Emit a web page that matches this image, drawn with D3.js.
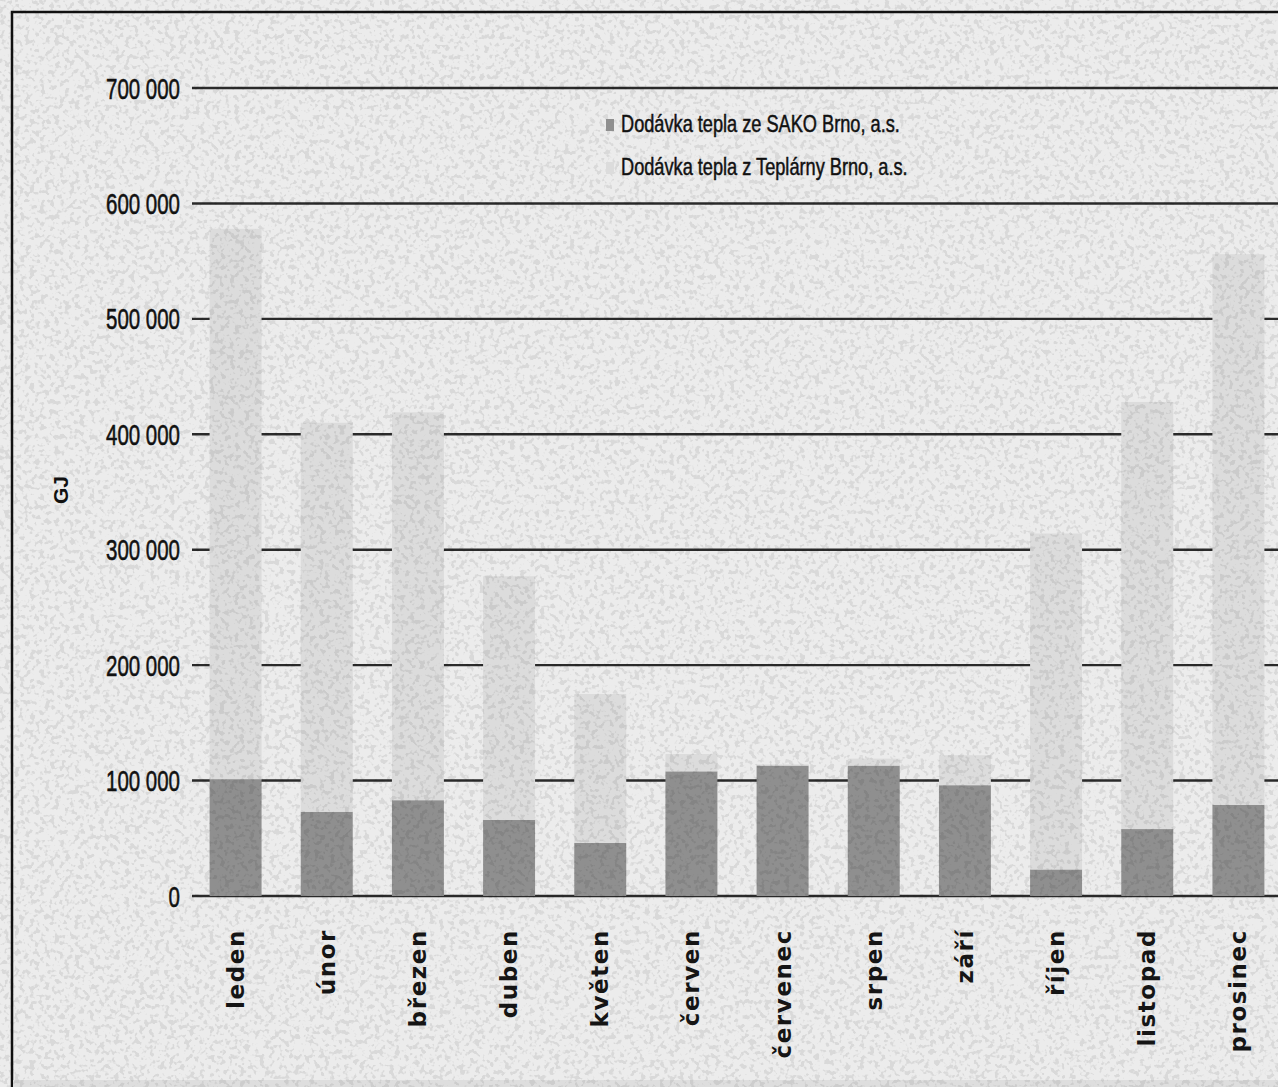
<!DOCTYPE html>
<html>
<head>
<meta charset="utf-8">
<script src="https://cdn.jsdelivr.net/npm/d3@7"></script>
<style>
  html, body { margin: 0; padding: 0; background: #ececec; }
  svg { display: block; }
</style>
</head>
<body>
<svg id="chart" width="1278" height="1087"></svg>
<script>
// ---- data ----
const months = ['leden','únor','březen','duben','květen','červen','červenec','srpen','září','říjen','listopad','prosinec'];
const sako = [101000, 73000, 83000, 66000, 46000, 108000, 113000, 113000, 96000, 23000, 58000, 79000];
const teplarny = [477000, 337000, 336000, 211000, 129000, 15000, 1000, 6000, 26000, 291000, 370000, 477000];
const seriesNames = ['Dodávka tepla ze SAKO Brno, a.s.', 'Dodávka tepla z Teplárny Brno, a.s.'];
const yTicks = [0, 100000, 200000, 300000, 400000, 500000, 600000, 700000];
const yTitle = 'GJ';

// ---- setup ----
const W = 1278, H = 1087;
const svg = d3.select('#chart');
const colors = { sako: '#8f8f8f', tep: '#dcdcdc', bg: '#ececec', grid: '#2a2a2a' };

const defs = svg.append('defs');
const f = defs.append('filter').attr('id', 'speckle').attr('x', 0).attr('y', 0).attr('width', '100%').attr('height', '100%');
f.append('feTurbulence').attr('type', 'fractalNoise').attr('baseFrequency', 0.2).attr('numOctaves', 2).attr('seed', 7).attr('result', 'n');
f.append('feColorMatrix').attr('in', 'n').attr('type', 'matrix')
  .attr('values', '0 0 0 0 0  0 0 0 0 0  0 0 0 0 0  9 0 0 0 -4.7')
  .attr('result', 'a');
f.append('feComponentTransfer').attr('in', 'a')
  .append('feFuncA').attr('type', 'table').attr('tableValues', '0 0.08');

const data = months.map((m, i) => ({ month: m, sako: sako[i], tep: teplarny[i] }));
const stack = d3.stack().keys(['sako', 'tep'])(data);

const x = d3.scaleBand().domain(months).range([190, 1284]).paddingInner(0.43).paddingOuter(0.215);
const y = d3.scaleLinear().domain([0, 700000]).range([896, 88]);

const locale = d3.formatLocale({ decimal: ',', thousands: '\u00a0', grouping: [3], currency: ['', ' Kč'] });
const fmt = locale.format(',d');

// background
svg.append('rect').attr('width', W).attr('height', H).attr('fill', colors.bg);

// frame
svg.append('path').attr('d', `M12,${H} L12,12 L${W},12`).attr('fill', 'none').attr('stroke', '#111').attr('stroke-width', 2.5);
svg.append('rect').attr('x', 13).attr('y', 1080).attr('width', W).attr('height', 7).attr('fill', '#dedede');

// grid lines
svg.append('g').selectAll('line').data(yTicks).join('line')
  .attr('x1', 192).attr('x2', W)
  .attr('y1', d => y(d)).attr('y2', d => y(d))
  .attr('stroke', colors.grid).attr('stroke-width', 2.4);

// bars
const gBars = svg.append('g');
gBars.selectAll('g').data(stack).join('g')
  .attr('fill', d => d.key === 'sako' ? colors.sako : colors.tep)
  .selectAll('rect').data(d => d).join('rect')
  .attr('x', d => x(d.data.month))
  .attr('width', x.bandwidth())
  .attr('y', d => y(d[1]))
  .attr('height', d => y(d[0]) - y(d[1]));

// speckle texture
svg.append('rect').attr('width', W).attr('height', H).attr('filter', 'url(#speckle)').style('pointer-events', 'none');

// y tick labels
const gY = svg.append('g');
const yl = gY.selectAll('text').data(yTicks).join('text')
  .attr('font-family', 'Liberation Sans Narrow, Arial Narrow, Liberation Sans, sans-serif')
  .attr('font-size', 30)
  .attr('fill', '#111')
  .attr('stroke', '#111').attr('stroke-width', 0.6)
  .attr('text-anchor', 'end')
  .text(d => fmt(d));
const ref = yl.filter(d => d === 700000).node().getComputedTextLength();
const kx = 74 / ref;
yl.attr('transform', d => `translate(180,${y(d) + 10.5}) scale(${kx},1)`);

// y title
svg.append('text')
  .attr('transform', `translate(68,490) rotate(-90)`)
  .attr('text-anchor', 'middle')
  .attr('font-family', 'Liberation Sans, Arial, sans-serif')
  .attr('font-weight', 'bold')
  .attr('font-size', 21)
  .attr('fill', '#111')
  .text(yTitle);

// x labels
svg.append('g').selectAll('text').data(months).join('text')
  .attr('transform', d => `translate(${x(d) + x.bandwidth() / 2 + 8},929) rotate(-90)`)
  .attr('text-anchor', 'end')
  .attr('font-family', 'DejaVu Sans, sans-serif')
  .attr('font-weight', 'bold')
  .attr('font-size', 23)
  .attr('letter-spacing', 1.6)
  .attr('fill', '#151515')
  .text(d => d);

// legend
const legend = svg.append('g');
const legItems = legend.selectAll('g').data(seriesNames).join('g')
  .attr('transform', (d, i) => `translate(606,${132 + i * 43})`);
legItems.append('rect')
  .attr('x', 0).attr('y', -13).attr('width', 8).attr('height', 12)
  .attr('fill', (d, i) => i === 0 ? colors.sako : colors.tep);
const lt = legItems.append('text')
  .attr('font-family', 'Liberation Sans Narrow, Arial Narrow, Liberation Sans, sans-serif')
  .attr('font-size', 24)
  .attr('fill', '#111')
  .attr('stroke', '#111').attr('stroke-width', 0.5)
  .text(d => d);
const lw = lt.filter((d, i) => i === 0).node().getComputedTextLength();
const lk = 279 / lw;
lt.attr('transform', `translate(15,0) scale(${lk},1)`);
</script>
</body>
</html>
